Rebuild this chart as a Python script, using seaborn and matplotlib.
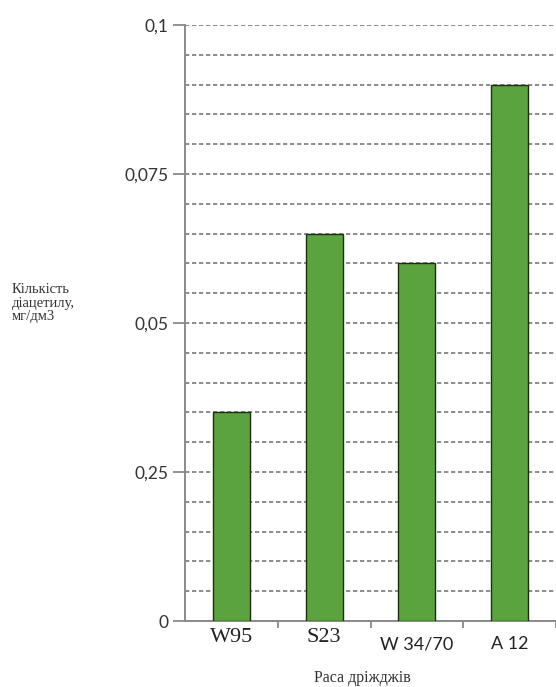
import matplotlib
matplotlib.use("Agg")
import matplotlib.pyplot as plt
import seaborn as sns
import pandas as pd
from matplotlib.ticker import MultipleLocator, FixedLocator

categories = ["W95", "S23", "W 34/70", "A 12"]
values = [0.035, 0.065, 0.060, 0.090]
ytick_values = [0, 0.025, 0.05, 0.075, 0.1]
ytick_labels = ["0", "0,25", "0,05", "0,075", "0,1"]
ylabel = "Кількість\nдіацетилу,\nмг/дм3"
xlabel = "Раса дріжджів"

df = pd.DataFrame({"race": categories, "value": values})

sns.set_style("white")
plt.rcParams["font.family"] = ["Lato", "DejaVu Sans"]

fig = plt.figure(figsize=(5.56, 6.87), dpi=100)
ax = fig.add_axes([185/556, 1 - 621/687, 1 - 185/556, (621 - 25)/687])

sns.barplot(data=df, x="race", y="value", color="#5ba33f", width=0.4,
            edgecolor="#1c2e12", linewidth=1.0, saturation=1, ax=ax, zorder=3)

ax.set_xlim(-0.5, 3.41)
ax.set_ylim(0, 0.1)

ax.yaxis.set_major_locator(FixedLocator(ytick_values))
ax.set_yticklabels(ytick_labels)
ax.yaxis.set_minor_locator(MultipleLocator(0.005))
ax.grid(True, which="both", axis="y", linestyle=(0, (2.2, 1.4)), color="#8c8c8c", linewidth=1.4, zorder=0)
ax.set_axisbelow(True)
ax.tick_params(axis="y", which="major", length=9, width=1.3, color="#8a8a8a",
               direction="out", pad=3, labelsize=12.5, labelcolor="#333333", left=True)
ax.tick_params(axis="y", which="minor", length=0)

ax.set_xticks(range(len(categories)))
ax.set_xticklabels(categories)
ax.set_xticks([0.5, 1.5, 2.5, 3.5], minor=True)
ax.tick_params(axis="x", which="major", length=0, pad=5, labelcolor="#222222")
ax.tick_params(axis="x", which="minor", length=5, width=1.3, color="#8a8a8a", direction="out", bottom=True)

for lbl, txt in zip(ax.get_xticklabels(), categories):
    if txt in ("W95", "S23"):
        lbl.set_fontfamily("Liberation Serif")
        lbl.set_fontsize(16)
    else:
        lbl.set_fontfamily("Lato")
        lbl.set_fontsize(13)
        lbl.set_y(-0.014)

for s in ("top", "right"):
    ax.spines[s].set_visible(False)
for s in ("left", "bottom"):
    ax.spines[s].set_color("#8a8a8a")
    ax.spines[s].set_linewidth(1.4)

ax.set_xlabel("")
ax.set_ylabel("")
fig.text(12/556, 1 - 303/687, ylabel, fontfamily="Liberation Serif", fontsize=10.5,
         color="#333333", ha="left", va="center", linespacing=1.05)
fig.text(362/556, 1 - 678/687, xlabel, fontfamily="Liberation Serif", fontsize=11.5,
         color="#333333", ha="center", va="center")

fig.savefig("out.png", dpi=100)
